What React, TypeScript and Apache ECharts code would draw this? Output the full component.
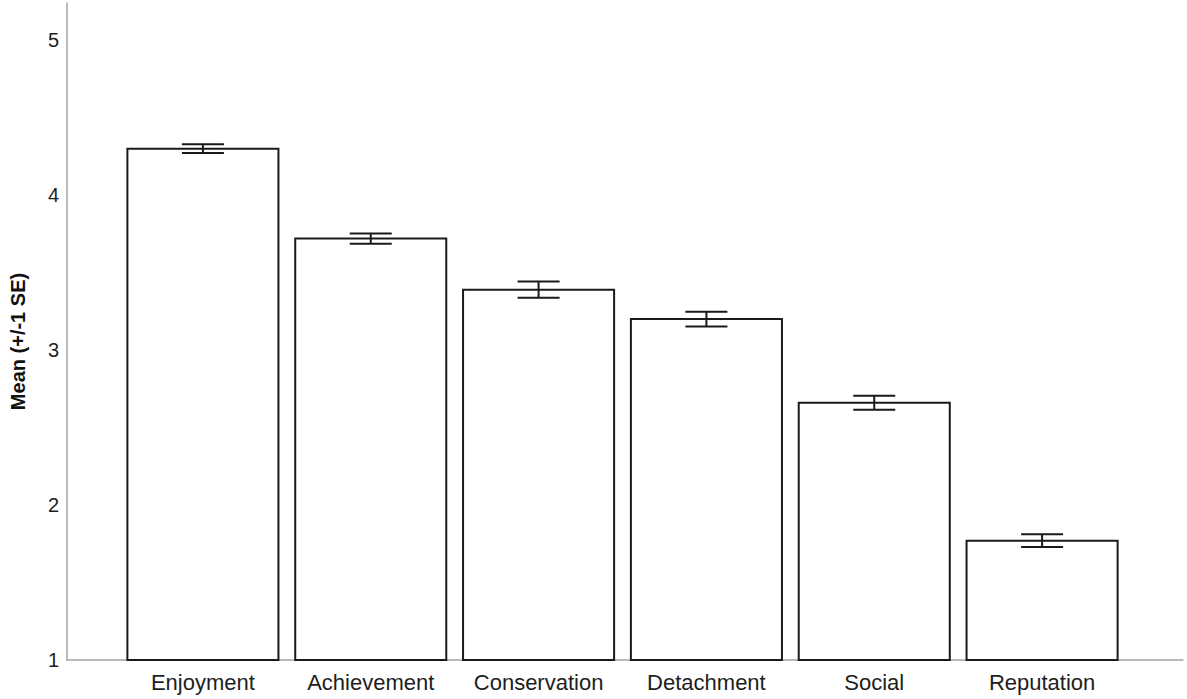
import React, { useEffect, useRef } from "react";
import * as echarts from "echarts";

const CATEGORIES = ["Enjoyment", "Achievement", "Conservation", "Detachment", "Social", "Reputation"];
const MEANS = [4.3, 3.72, 3.39, 3.2, 2.66, 1.77];
const SE = [0.028, 0.033, 0.052, 0.048, 0.045, 0.041];
const Y_MIN = 1;
const Y_MAX = 5.24;
const Y_TITLE = "Mean (+/-1 SE)";

const FONT = "'Liberation Sans', Arial, Helvetica, sans-serif";

export default function App() {
  const ref = useRef<HTMLDivElement>(null);

  useEffect(() => {
    if (!ref.current) return;
    const chart = echarts.init(ref.current, null, { renderer: "svg" });
    const axisGray = "#a3a3a3";
    const ink = "#1a1a1a";

    const option: any = {
      animation: false,
      backgroundColor: "#ffffff",
      grid: [
        { left: 63, right: 4, top: 3, bottom: 39 },
        { left: 119, right: 61, top: 3, bottom: 39 },
      ],
      xAxis: [
        {
          gridIndex: 0,
          type: "value",
          min: 0,
          max: 1,
          axisLine: { show: true, lineStyle: { color: axisGray, width: 1.5 } },
          axisTick: { show: false },
          axisLabel: { show: false },
          splitLine: { show: false },
        },
        {
          gridIndex: 1,
          type: "category",
          data: CATEGORIES,
          axisLine: { show: false },
          axisTick: { show: false },
          splitLine: { show: false },
          axisLabel: {
            interval: 0,
            margin: 11,
            fontSize: 22,
            color: "#1e1e1e",
            fontFamily: FONT,
          },
        },
      ],
      yAxis: [
        {
          gridIndex: 0,
          type: "value",
          min: Y_MIN,
          max: Y_MAX,
          interval: 1,
          name: Y_TITLE,
          nameLocation: "middle",
          nameRotate: 90,
          nameGap: 39,
          nameTextStyle: {
            fontSize: 20,
            fontWeight: "bold",
            color: "#111",
            fontFamily: FONT,
            padding: [0, 20, 0, 0],
          },
          axisLine: { show: true, lineStyle: { color: axisGray, width: 1.5 } },
          axisTick: { show: false },
          splitLine: { show: false },
          axisLabel: {
            margin: 8,
            fontSize: 20,
            color: "#1e1e1e",
            fontFamily: FONT,
            showMaxLabel: false,
            formatter: (v: number) => (Number.isInteger(v) ? String(v) : ""),
          },
        },
        {
          gridIndex: 1,
          type: "value",
          min: Y_MIN,
          max: Y_MAX,
          interval: 1,
          show: false,
          splitLine: { show: false },
        },
      ],
      series: [
        {
          type: "custom",
          xAxisIndex: 1,
          yAxisIndex: 1,
          data: CATEGORIES.map((_, i) => [i, MEANS[i]]),
          renderItem: (params: any, api: any) => {
            const i = api.value(0);
            const v = api.value(1);
            const top = api.coord([i, v]);
            const bottom = api.coord([i, Y_MIN]);
            const w = api.size([1, 0])[0] * 0.9;
            return {
              type: "rect",
              shape: { x: top[0] - w / 2, y: top[1], width: w, height: bottom[1] - top[1] },
              style: { fill: "#ffffff", stroke: ink, lineWidth: 2 },
            };
          },
        },
        {
          type: "custom",
          xAxisIndex: 1,
          yAxisIndex: 1,
          data: CATEGORIES.map((_, i) => [i, MEANS[i], SE[i]]),
          renderItem: (params: any, api: any) => {
            const i = api.value(0);
            const m = api.value(1);
            const s = api.value(2);
            const hi = api.coord([i, m + s]);
            const lo = api.coord([i, m - s]);
            const half = 21;
            const st = { stroke: ink, lineWidth: 2 };
            return {
              type: "group",
              children: [
                { type: "line", shape: { x1: hi[0], y1: hi[1], x2: lo[0], y2: lo[1] }, style: st },
                { type: "line", shape: { x1: hi[0] - half, y1: hi[1], x2: hi[0] + half, y2: hi[1] }, style: st },
                { type: "line", shape: { x1: lo[0] - half, y1: lo[1], x2: lo[0] + half, y2: lo[1] }, style: st },
              ],
            };
          },
        },
      ],
    };

    chart.setOption(option);
    return () => chart.dispose();
  }, []);

  return (
    <div
      ref={ref}
      style={{ position: "fixed", left: 0, top: 0, width: 1187, height: 699, background: "#fff" }}
    />
  );
}
